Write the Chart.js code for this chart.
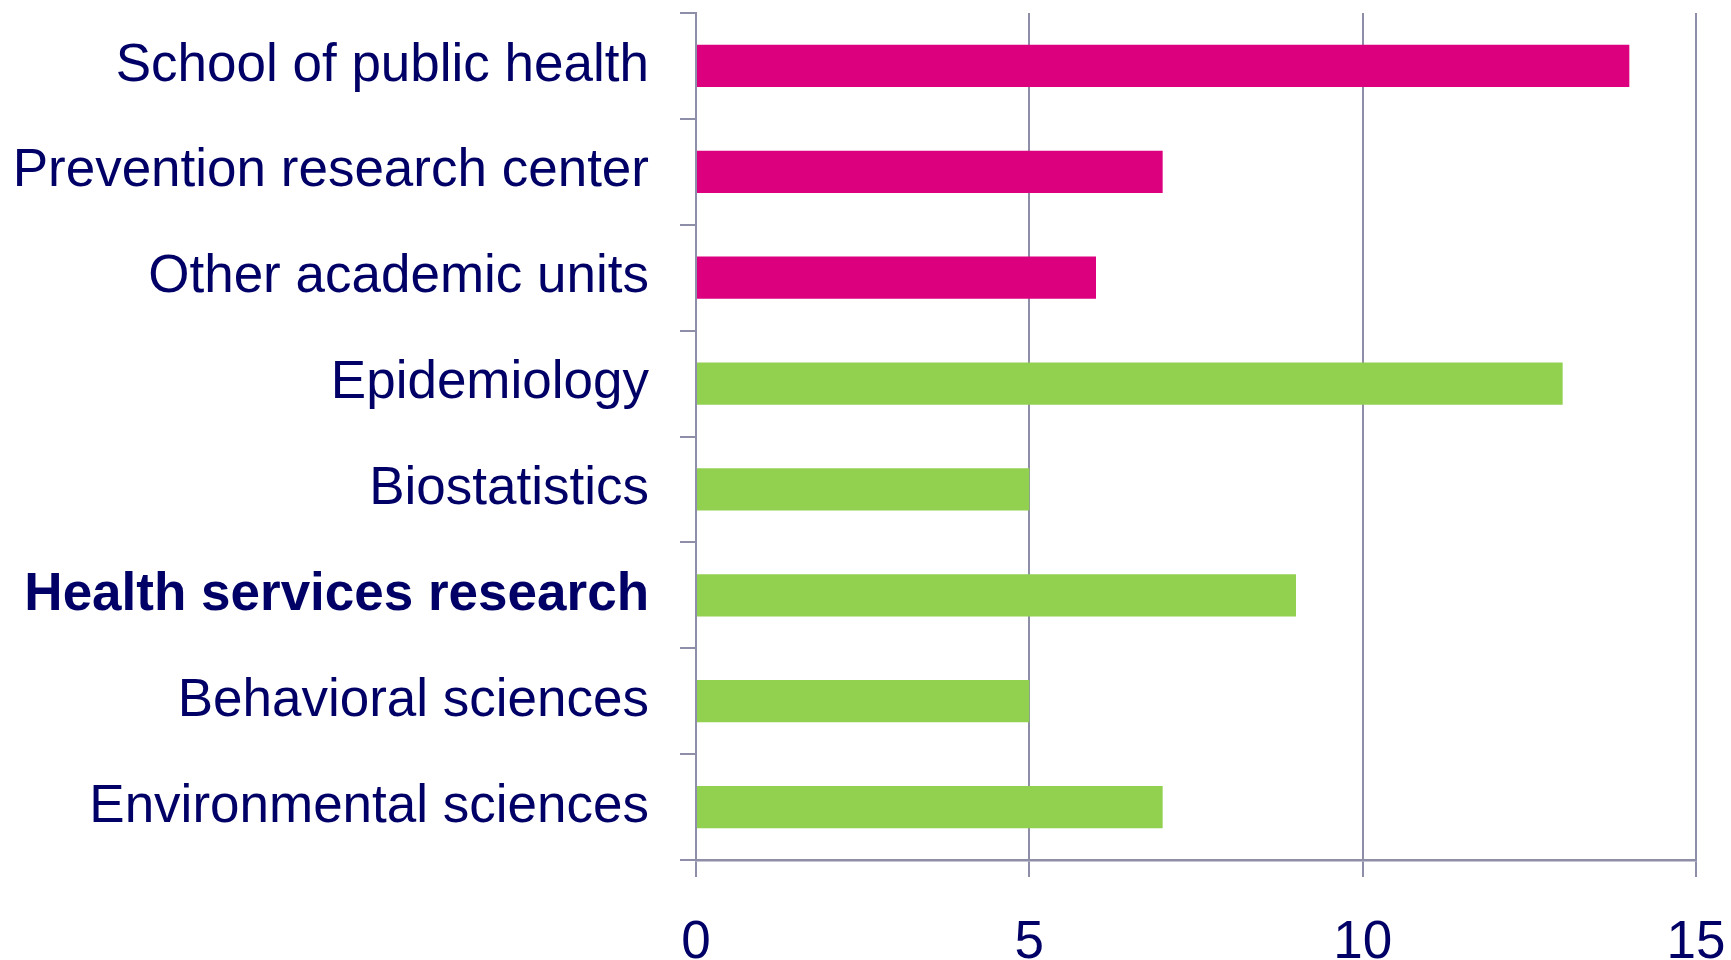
<!DOCTYPE html>
<html>
<head>
<meta charset="utf-8">
<script src="https://cdn.jsdelivr.net/npm/chart.js@4/dist/chart.umd.min.js"></script>
<style>
  html, body { margin: 0; padding: 0; background: #ffffff; }
  canvas { display: block; }
</style>
</head>
<body>
<canvas id="c" width="1731" height="960"></canvas>
<script>
const categories = [
  "School of public health",
  "Prevention research center",
  "Other academic units",
  "Epidemiology",
  "Biostatistics",
  "Health services research",
  "Behavioral sciences",
  "Environmental sciences"
];
const values = [14, 7, 6, 13, 5, 9, 5, 7];
const groups = ["unit", "unit", "unit", "dept", "dept", "dept", "dept", "dept"];
const boldCategory = "Health services research";
const xTicks = [0, 5, 10, 15];

const groupColors = { unit: "#DC007F", dept: "#92D050" };
const gridColor = "#8E8EA8";
const textColor = "#000066";
const fontFamily = "'Liberation Sans', Arial, Helvetica, sans-serif";

function zeroPad(s) {
  s.paddingTop = 0; s.paddingBottom = 0; s.paddingLeft = 0; s.paddingRight = 0;
}

new Chart(document.getElementById("c"), {
  type: "bar",
  data: {
    labels: categories,
    datasets: [{
      data: values,
      backgroundColor: groups.map(g => groupColors[g]),
      borderWidth: 0,
      barPercentage: 0.4,
      categoryPercentage: 1.0
    }]
  },
  options: {
    indexAxis: "y",
    responsive: false,
    animation: false,
    layout: { padding: { top: 13, right: 35, left: 0, bottom: 0 } },
    plugins: { legend: { display: false }, tooltip: { enabled: false } },
    scales: {
      x: {
        min: xTicks[0],
        max: xTicks[xTicks.length - 1],
        afterBuildTicks: (s) => { s.ticks = xTicks.map(v => ({ value: v })); },
        afterFit: (s) => { s.height = 100; zeroPad(s); },
        grid: {
          color: gridColor,
          lineWidth: 2,
          drawOnChartArea: true,
          drawTicks: true,
          tickLength: 17
        },
        border: { color: gridColor, width: 2.5 },
        ticks: {
          color: textColor,
          font: { family: fontFamily, size: 53 },
          padding: 35,
          maxRotation: 0
        }
      },
      y: {
        afterFit: (s) => { s.width = 696; zeroPad(s); },
        grid: {
          offset: true,
          color: gridColor,
          lineWidth: 2,
          drawOnChartArea: false,
          drawTicks: true,
          tickLength: 16
        },
        border: { color: gridColor, width: 2 },
        ticks: {
          color: textColor,
          padding: 31,
          font: (ctx) => ({
            family: fontFamily,
            size: 53,
            weight: categories[ctx.index] === boldCategory ? "bold" : "normal"
          })
        }
      }
    }
  }
});
</script>
</body>
</html>
